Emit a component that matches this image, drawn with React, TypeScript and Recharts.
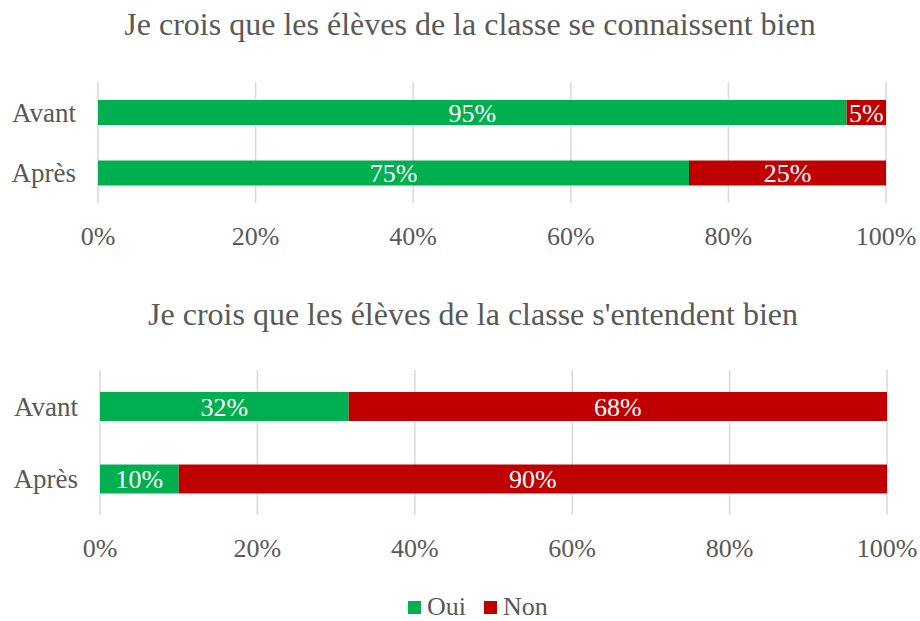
import React from 'react';
import { BarChart, Bar, XAxis, YAxis, CartesianGrid, LabelList } from 'recharts';

const categories = ['Avant', 'Après'];
const oui1 = [95, 75];
const non1 = [5, 25];
const oui2 = [31.6, 10];
const non2 = [68.4, 90];
const xTicks = [0, 20, 40, 60, 80, 100];
const title1 = 'Je crois que les élèves de la classe se connaissent bien';
const title2 = "Je crois que les élèves de la classe s'entendent bien";
const seriesNames = ['Oui', 'Non'];
const colors = ['#00B050', '#C00000'];

const FONT = '"Liberation Serif", "Times New Roman", serif';
const TEXT = '#595959';

const data1 = categories.map((c, i) => ({ cat: c, Oui: oui1[i], Non: non1[i] }));
const data2 = categories.map((c, i) => ({ cat: c, Oui: oui2[i], Non: non2[i] }));

const fmt = (v: any) => `${Math.round(Number(v))}%`;

function Panel({ data, top, height, margin, barSize, yWidth, xHeight }: any) {
  return (
    <div style={{ position: 'absolute', left: 0, top, width: 920, height }}>
      <BarChart
        width={920}
        height={height}
        data={data}
        layout="vertical"
        margin={margin}
        barSize={barSize}
      >
        <CartesianGrid horizontal={false} stroke="#D9D9D9" strokeWidth={1.5} />
        <XAxis
          type="number"
          domain={[0, 100]}
          ticks={xTicks}
          tickFormatter={fmt}
          axisLine={false}
          tickLine={false}
          tickSize={0}
          tickMargin={24}
          height={xHeight}
          interval={0}
          tick={{ fill: TEXT, fontSize: 26, fontFamily: FONT }}
        />
        <YAxis
          type="category"
          dataKey="cat"
          width={yWidth}
          axisLine={false}
          tickLine={false}
          tickSize={0}
          tickMargin={22}
          tick={{ fill: TEXT, fontSize: 27, fontFamily: FONT }}
        />
        {seriesNames.map((s, i) => (
          <Bar key={s} dataKey={s} stackId="a" fill={colors[i]} isAnimationActive={false}>
            <LabelList
              dataKey={s}
              position="center"
              formatter={fmt}
              fill="#FFFFFF"
              style={{ fontSize: 26, fontFamily: FONT }}
            />
          </Bar>
        ))}
      </BarChart>
    </div>
  );
}

export default function App() {
  const titleStyle: React.CSSProperties = {
    position: 'absolute',
    left: 10,
    width: 920,
    textAlign: 'center',
    fontFamily: FONT,
    fontSize: 32,
    lineHeight: '36px',
    color: TEXT,
    whiteSpace: 'nowrap',
  };
  return (
    <div style={{ position: 'absolute', left: 0, top: 0, width: 920, height: 621, background: '#fff', overflow: 'hidden' }}>
      <div style={{ ...titleStyle, top: 6 }}>{title1}</div>
      <Panel data={data1} top={0} height={270} margin={{ top: 82, right: 34, bottom: 7, left: 0 }} barSize={25} yWidth={98} xHeight={60} />
      <div style={{ ...titleStyle, left: 13, top: 296 }}>{title2}</div>
      <Panel data={data2} top={290} height={300} margin={{ top: 80, right: 33, bottom: 15, left: 0 }} barSize={29} yWidth={100} xHeight={60} />
      <div
        style={{
          position: 'absolute',
          left: 408,
          top: 592,
          display: 'flex',
          alignItems: 'center',
          fontFamily: FONT,
          fontSize: 26,
          lineHeight: '30px',
          color: TEXT,
        }}
      >
        {seriesNames.map((s, i) => (
          <div key={s} style={{ display: 'flex', alignItems: 'center', marginRight: i === 0 ? 18 : 0 }}>
            <span style={{ display: 'inline-block', width: 13, height: 13, background: colors[i], marginRight: 6 }} />
            <span>{s}</span>
          </div>
        ))}
      </div>
    </div>
  );
}
